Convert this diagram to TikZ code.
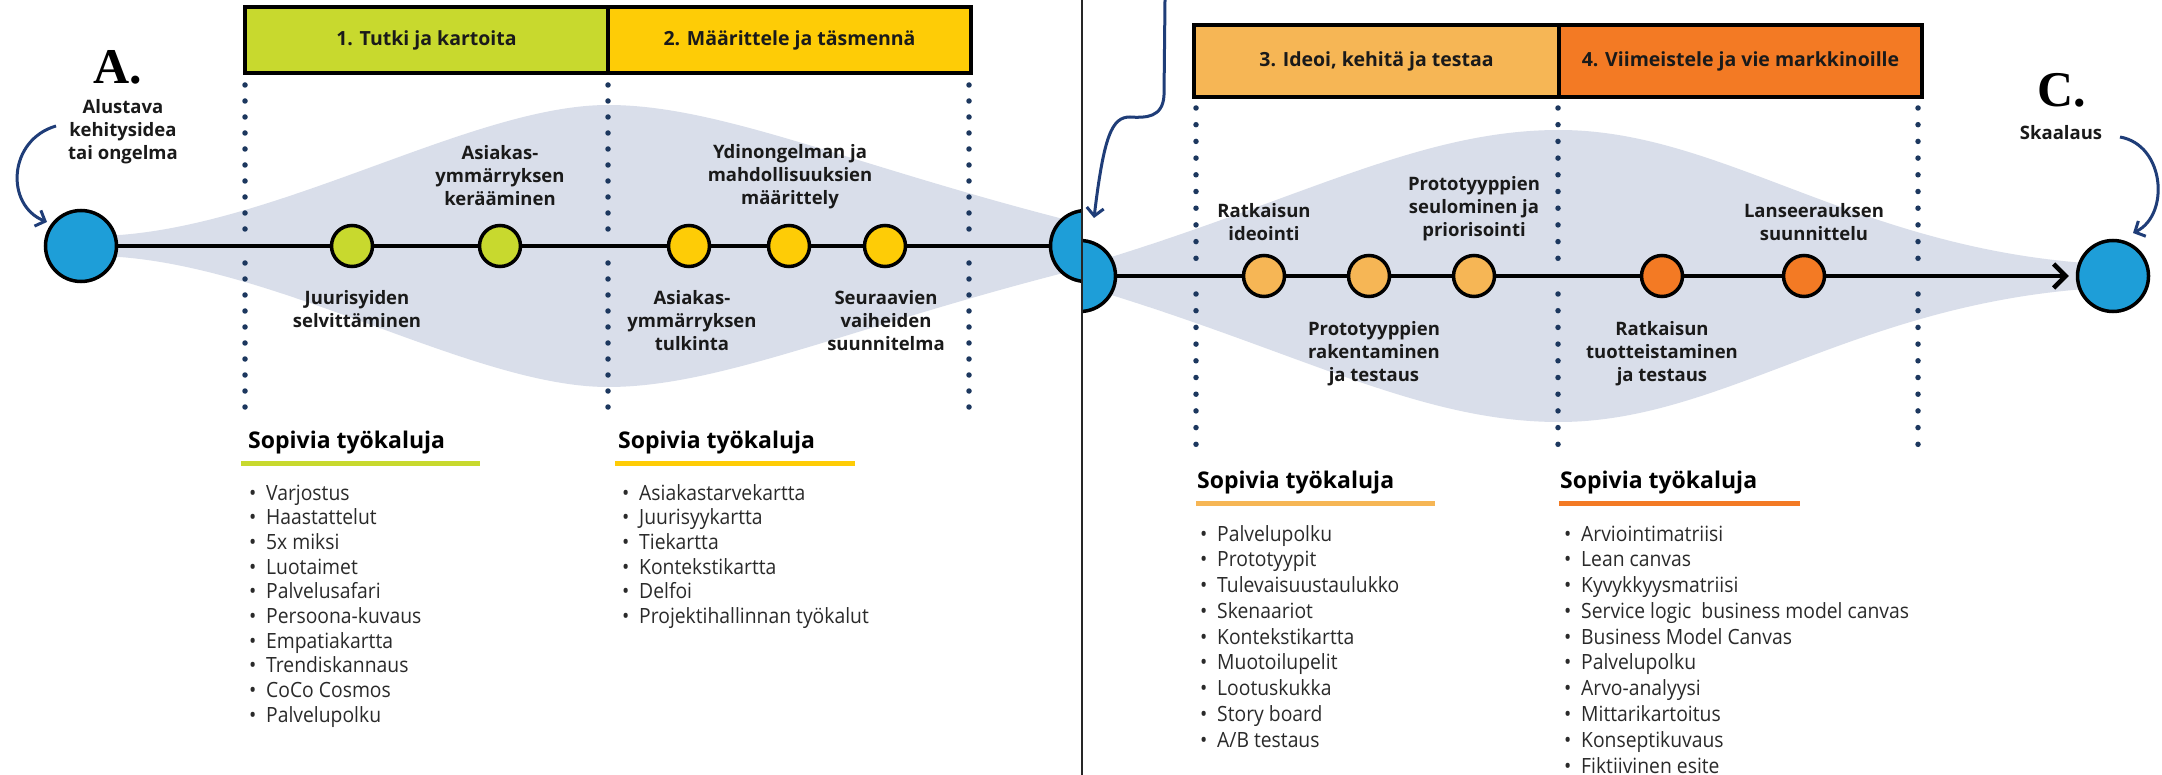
\documentclass[tikz,border=0pt]{standalone}
\usepackage{fontspec}
\setmainfont{Open Sans}
\newfontfamily\lblfont{Open Sans}
\newfontfamily\listfont{Open Sans}[FakeStretch=0.92]
\newfontfamily\letterfont{Liberation Serif}
\usetikzlibrary{arrows.meta}

\definecolor{limeC}{HTML}{C8D92E}
\definecolor{yelC}{HTML}{FECC06}
\definecolor{lorC}{HTML}{F6B655}
\definecolor{orC}{HTML}{F37A24}
\definecolor{blueC}{HTML}{1E9ED8}
\definecolor{lensC}{HTML}{D9DEEA}
\definecolor{dotC}{HTML}{1C375E}
\definecolor{navyC}{HTML}{1F3D78}
\definecolor{textC}{HTML}{1A1A1A}
\definecolor{listC}{HTML}{2A2A2A}

\tikzset{
  bigc/.style={circle, draw=black, line width=3.5pt, fill=blueC, minimum size=71pt, inner sep=0pt},
  stepc/.style={circle, draw=black, line width=3.5pt, minimum size=41pt, inner sep=0pt},
  phasebox/.style={draw=black, line width=3.5pt, inner sep=0pt,
    font=\lblfont\bfseries\fontsize{19.5}{22}\selectfont, text=textC},
  lbl/.style={align=center, inner sep=0pt, text=textC,
    font=\lblfont\bfseries\fontsize{18.5}{23}\selectfont},
  letter/.style={inner sep=0pt, text=black, font=\letterfont\bfseries\fontsize{50}{50}\selectfont},
  dotsL/.style={dotC, line width=5.5pt, line cap=round, dash pattern=on 0pt off 16pt},
  dotsR/.style={dotC, line width=5.5pt, line cap=round, dash pattern=on 0pt off 16.7pt},
  head/.style={anchor=base west, inner sep=0pt, text=black,
    font=\lblfont\bfseries\fontsize{23}{28}\selectfont},
  item/.style={anchor=base west, inner sep=0pt, text=listC,
    font=\listfont\fontsize{21}{25}\selectfont},
  mainline/.style={line width=4.5pt, black},
  curvy/.style={navyC, line width=3pt, -{Straight Barb[length=8pt,width=17pt]}},
  rule/.style={line width=5pt}
}

\begin{document}
\begin{tikzpicture}[x=1pt,y=-1pt]
\useasboundingbox (0,0) rectangle (2162,775);
\fill[white] (0,0) rectangle (2162,775);

% ---------------- left half: phases 1 and 2 ----------------
\begin{scope}
\clip (0,0) rectangle (1081,775);
\fill[lensC] (100,236) .. controls (270,232) and (470,105) .. (608,105)
  .. controls (720,105) and (850,165) .. (1075,222) -- (1075,270)
  .. controls (850,327) and (720,387) .. (608,387)
  .. controls (470,387) and (270,260) .. (100,256) -- cycle;

\foreach \x in {245,608,969}{
  \draw[dotsL] (\x,85) -- (\x,231);
  \draw[dotsL] (\x,263) -- (\x,409);
}

\node[phasebox, fill=limeC, minimum width=363pt, minimum height=66pt] (p1) at (426.5,40) {1. Tutki ja kartoita};
\node[phasebox, fill=yelC, minimum width=363pt, minimum height=66pt] (p2) at (789.5,40) {2. Määrittele ja täsmennä};

\node[bigc] (A) at (81,246) {};
\node[bigc] (B) at (1086,246) {};
\draw[mainline] (A) -- (B);
\node[stepc, fill=limeC] (s1) at (352,246) {};
\node[stepc, fill=limeC] (s2) at (500,246) {};
\node[stepc, fill=yelC] (s3) at (689,246) {};
\node[stepc, fill=yelC] (s4) at (789,246) {};
\node[stepc, fill=yelC] (s5) at (885,246) {};

\node[letter] (tA) at (118,67) {A.};
\node[lbl] (lA) at (123,132) {Alustava\\kehitysidea\\tai ongelma};
\coordinate (aStart) at (56,126);
\coordinate (aTip) at (47,222);
\draw[curvy] (aStart) .. controls (8,140) and (5,205) .. (aTip);

\node[lbl] (l2) at (500,176) {Asiakas-\\ymmärryksen\\kerääminen};
\node[lbl] (l1) at (357,309) {Juurisyiden\\selvittäminen};
\node[lbl] (l4) at (790,177) {Ydinongelman ja\\mahdollisuuksien\\määrittely};
\node[lbl] (l3) at (692,321) {Asiakas-\\ymmärryksen\\tulkinta};
\node[lbl] (l5) at (886,321) {Seuraavien\\vaiheiden\\suunnitelma};

\node[head] (h1) at (248,448) {Sopivia työkaluja};
\draw[rule, limeC] (241,463) -- (480,463);
\foreach \t [count=\i from 0] in {Varjostus,Haastattelut,5x miksi,Luotaimet,Palvelusafari,Persoona-kuvaus,Empatiakartta,Trendiskannaus,CoCo Cosmos,Palvelupolku}
  \node[item] (ta-\i) at (249,500+24.67*\i) {\makebox[17pt][l]{•}\t};

\node[head] (h2) at (618,448) {Sopivia työkaluja};
\draw[rule, yelC] (615,463) -- (855,463);
\foreach \t [count=\i from 0] in {Asiakastarvekartta,Juurisyykartta,Tiekartta,Kontekstikartta,Delfoi,Projektihallinnan työkalut}
  \node[item] (tb-\i) at (622,500+24.67*\i) {\makebox[17pt][l]{•}\t};
\end{scope}

% ---------------- right half: phases 3 and 4 ----------------
\begin{scope}
\clip (1083,0) rectangle (2162,775);
\fill[lensC] (1095,262) .. controls (1300,200) and (1420,130) .. (1559,130)
  .. controls (1720,130) and (1850,245) .. (2085,263) -- (2085,289)
  .. controls (1850,307) and (1720,422) .. (1559,422)
  .. controls (1420,422) and (1300,352) .. (1095,290) -- cycle;

\foreach \x in {1196,1558,1918}{
  \draw[dotsR] (\x,108) -- (\x,259);
  \draw[dotsR] (\x,294) -- (\x,446);
}

\node[phasebox, fill=lorC, minimum width=365pt, minimum height=72pt] (p3) at (1376.5,61) {3. Ideoi, kehitä ja testaa};
\node[phasebox, fill=orC, minimum width=363pt, minimum height=72pt] (p4) at (1740.5,61) {4. Viimeistele ja vie markkinoille};

\node[bigc] (B2) at (1080,276) {};
\node[bigc] (C) at (2113,276) {};
\draw[mainline, -{Straight Barb[length=12pt,width=24pt]}, shorten >=7pt] (B2) -- (C);
\node[stepc, fill=lorC] (r1) at (1264,276) {};
\node[stepc, fill=lorC] (r2) at (1369,276) {};
\node[stepc, fill=lorC] (r3) at (1474,276) {};
\node[stepc, fill=orC] (r4) at (1662,276) {};
\node[stepc, fill=orC] (r5) at (1804,276) {};

\coordinate (bTop) at (1165,0);
\coordinate (bTip) at (1094,218);
\draw[curvy] (bTop) -- (1164,95) .. controls (1163,118) and (1145,118) .. (1130,117)
  .. controls (1112,117) and (1104,135) .. (bTip);

\node[letter] (tC) at (2062,90) {C.};
\node[lbl] (lC) at (2061,133) {Skaalaus};
\coordinate (cStart) at (2120,137);
\coordinate (cTip) at (2133,233);
\draw[curvy] (cStart) .. controls (2165,145) and (2170,215) .. (cTip);

\node[lbl] (m1) at (1264,222) {Ratkaisun\\ideointi};
\node[lbl] (m3) at (1474,209) {Prototyyppien\\seulominen ja\\priorisointi};
\node[lbl] (m2) at (1374,354) {Prototyyppien\\rakentaminen\\ja testaus};
\node[lbl] (m5) at (1814,222) {Lanseerauksen\\suunnittelu};
\node[lbl] (m4) at (1662,354) {Ratkaisun\\tuotteistaminen\\ja testaus};

\node[head] (h3) at (1197,488) {Sopivia työkaluja};
\draw[rule, lorC] (1196,503) -- (1435,503);
\foreach \t [count=\i from 0] in {Palvelupolku,Prototyypit,Tulevaisuustaulukko,Skenaariot,Kontekstikartta,Muotoilupelit,Lootuskukka,Story board,A/B testaus}
  \node[item] (tc-\i) at (1200,541+25.78*\i) {\makebox[17pt][l]{•}\t};

\node[head] (h4) at (1560,488) {Sopivia työkaluja};
\draw[rule, orC] (1559,503) -- (1800,503);
\foreach \t [count=\i from 0] in {Arviointimatriisi,Lean canvas,Kyvykkyysmatriisi,Service logic\ \ business model canvas,Business Model Canvas,Palvelupolku,Arvo-analyysi,Mittarikartoitus,Konseptikuvaus,Fiktiivinen esite}
  \node[item] (td-\i) at (1564,541+25.78*\i) {\makebox[17pt][l]{•}\t};
\end{scope}

% divider between the two halves
\draw[line width=2.5pt, black!85] (1082,0) -- (1082,775);
\end{tikzpicture}
\end{document}
